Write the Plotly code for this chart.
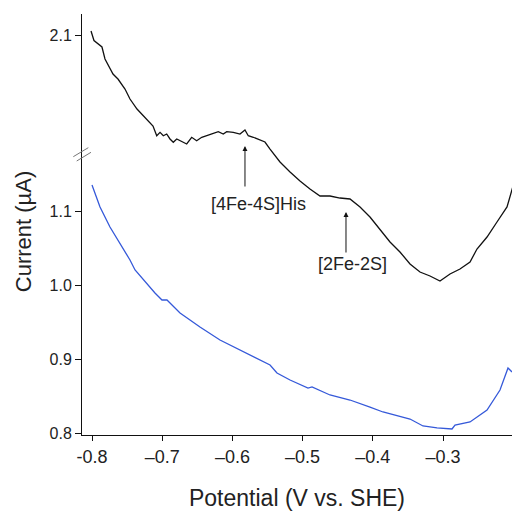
import plotly.graph_objects as go

pot_black = [-0.8014, -0.7972, -0.7858, -0.7815, -0.7701, -0.7630, -0.7530, -0.7459, -0.7359, -0.7217,
             -0.7131, -0.7078, -0.7031, -0.6984, -0.6936, -0.6889, -0.6842, -0.6793, -0.6746, -0.6651,
             -0.6580, -0.6509, -0.6437, -0.6366, -0.6272, -0.6201, -0.6130, -0.6081, -0.5987, -0.5892,
             -0.5821, -0.5774, -0.5702, -0.5631, -0.5536, -0.5464, -0.5322, -0.5179, -0.5037, -0.4895,
             -0.4752, -0.4610, -0.4467, -0.4325, -0.4182, -0.4040, -0.3897, -0.3755, -0.3613, -0.3470,
             -0.3328, -0.3185, -0.3043, -0.2900, -0.2758, -0.2615, -0.2516, -0.2373, -0.2231, -0.2088,
             -0.2003]
cur_black = [2.1054, 2.0925, 2.0838, 2.0676, 2.0473, 2.0405, 2.0270, 2.0135, 2.0000, 1.9865,
             1.9770, 1.9639, 1.9685, 1.9639, 1.9662, 1.9595, 1.9550, 1.9595, 1.9572, 1.9527,
             1.9618, 1.9572, 1.9618, 1.9639, 1.9662, 1.9693, 1.9662, 1.9693, 1.9685, 1.9662,
             1.9716, 1.9639, 1.9618, 1.9595, 1.9554, 1.9459, 1.9284, 1.9149, 1.9027, 1.8919,
             1.8824, 1.8824, 1.8797, 1.8784, 1.8676, 1.8541, 1.8378, 1.8203, 1.8068, 1.7905,
             1.7797, 1.7743, 1.7676, 1.7770, 1.7838, 1.7932, 1.8108, 1.8270, 1.8473, 1.8676,
             1.8959]

# Lower (blue) trace
pot_blue = [-0.8000, -0.7886, -0.7744, -0.7601, -0.7459, -0.7387, -0.7245, -0.7103, -0.7003, -0.6932,
            -0.6746, -0.6604, -0.6462, -0.6177, -0.5892, -0.5607, -0.5464, -0.5365, -0.5179, -0.4923,
            -0.4866, -0.4610, -0.4325, -0.4040, -0.3855, -0.3470, -0.3285, -0.3085, -0.2872, -0.2829,
            -0.2615, -0.2373, -0.2188, -0.2074, -0.2017]
cur_blue = [1.1351, 1.1054, 1.0784, 1.0568, 1.0338, 1.0203, 1.0041, 0.9892, 0.9797, 0.9797,
            0.9622, 0.9527, 0.9432, 0.9257, 0.9122, 0.8986, 0.8919, 0.8811, 0.8716, 0.8608,
            0.8622, 0.8514, 0.8446, 0.8351, 0.8284, 0.8189, 0.8095, 0.8068, 0.8054, 0.8108,
            0.8149, 0.8311, 0.8581, 0.8878, 0.8824]

x_ticks = [-0.8, -0.7, -0.6, -0.5, -0.4, -0.3]
x_ticktext = ["-0.8", "\u20130.7", "\u20130.6", "\u20130.5", "\u20130.4", "\u20130.3"]
y_ticks_low = [0.8, 0.9, 1.0, 1.1]
y_ticktext_low = ["0.8", "0.9", "1.0", "1.1"]
y_ticks_high = [2.1]
y_ticktext_high = ["2.1"]

# Peak labels: arrow tip position and label position (on the upper-trace scale)
labels = ["[4Fe-4S]His", "[2Fe-2S]"]
arrow_pot = [-0.5821, -0.4382]
arrow_cur = [1.9500, 1.8608]
text_pot = [-0.5635, -0.4296]
text_cur = [1.8716, 1.7905]

FONT = "Liberation Sans, Arial, sans-serif"
TXT = "#222222"

fig = go.Figure()
fig.add_trace(go.Scatter(x=pot_blue, y=cur_blue, mode="lines",
                         line=dict(color="#3559d9", width=1.3), yaxis="y", showlegend=False))
fig.add_trace(go.Scatter(x=pot_black, y=cur_black, mode="lines",
                         line=dict(color="#111111", width=1.3), yaxis="y2", showlegend=False))

for t, axv, ayv, txv, tyv in zip(labels, arrow_pot, arrow_cur, text_pot, text_cur):
    fig.add_annotation(x=axv, y=ayv, xref="x", yref="y2", text="", showarrow=True,
                       ax=0, ay=42, arrowhead=2, arrowsize=1, arrowwidth=1, arrowcolor="#111")
    fig.add_annotation(x=txv, y=tyv, xref="x", yref="y2", text=t, showarrow=False,
                       xanchor="center", yanchor="middle",
                       font=dict(family=FONT, size=18, color=TXT))

# y-axis title (placed slightly below the centre of the axis, as in the original)
fig.add_annotation(x=-0.136, y=0.483, xref="paper", yref="paper", text="Current (µA)",
                   textangle=-90, showarrow=False, xanchor="center", yanchor="middle",
                   font=dict(family=FONT, size=22, color=TXT))

# axis break marks
for x0, y0, x1, y1 in [(-0.0202, 0.6611, 0.0147, 0.6825), (-0.0123, 0.6508, 0.0209, 0.6715)]:
    fig.add_shape(type="line", xref="paper", yref="paper", x0=x0, y0=y0, x1=x1, y1=y1,
                  line=dict(color="#777", width=1))

fig.update_layout(
    width=515, height=514,
    margin=dict(l=82, r=3, t=14, b=79),
    paper_bgcolor="white", plot_bgcolor="white",
    font=dict(family=FONT, color=TXT),
    xaxis=dict(range=[-0.81425, -0.20171], tickvals=x_ticks, ticktext=x_ticktext,
               showline=True, linecolor="#111", linewidth=1, ticks="outside", ticklen=5,
               tickcolor="#111", showgrid=False, zeroline=False,
               tickfont=dict(size=18, family=FONT, color=TXT),
               title=dict(text="Potential (V vs. SHE)", font=dict(size=23, family=FONT, color=TXT),
                          standoff=24)),
    yaxis=dict(range=[0.79730, 1.36622], tickvals=y_ticks_low, ticktext=y_ticktext_low,
               showline=True, linecolor="#111", linewidth=1, ticks="outside", ticklen=6,
               tickcolor="#111", showgrid=False, zeroline=False,
               tickfont=dict(size=16, family=FONT, color=TXT)),
    yaxis2=dict(range=[1.55946, 2.12838], tickvals=y_ticks_high, ticktext=y_ticktext_high,
                overlaying="y", side="left", anchor="x", showline=False, ticks="outside",
                ticklen=6, tickcolor="#111", showgrid=False, zeroline=False,
                tickfont=dict(size=16, family=FONT, color=TXT)),
)

fig.write_html("out.html")
